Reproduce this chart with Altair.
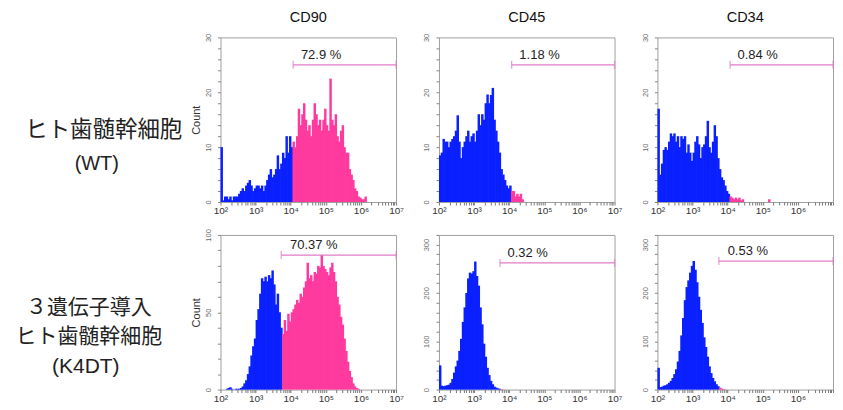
import altair as alt
import numpy as np
import pandas as pd

# ---------------- data ----------------
BIN_START_LOG = 2.0     # first bin starts at 10^2
BIN_WIDTH_LOG = 0.05    # each bin is 0.05 decade wide

COLUMN_TITLES = ["CD90", "CD45", "CD34"]
ROW_LABELS = [["ヒト歯髄幹細胞", "(WT)"],
              ["３遺伝子導入", "ヒト歯髄幹細胞", "(K4DT)"]]

# counts per 0.05-decade bin, starting at 10^2
CD90_WT = [10, 0.3, 1, 1, 0.5, 1, 0.3, 1, 1, 1,
           1.5, 2, 2.5, 2, 3, 3.5, 4, 3, 2, 2.5,
           3, 3, 2.5, 3, 2, 3, 4, 5, 6, 4.5,
           5, 6, 8.5, 6, 7, 9, 8, 12, 9, 12,
           10, 11, 10, 12, 17, 14, 16, 18, 15, 13,
           14, 12, 15, 18, 16, 14, 15, 13, 15, 17,
           14, 13, 22.5, 15, 14, 16, 12, 11, 13, 14,
           10, 9, 9, 6, 5, 4, 2.5, 2, 1, 0.8,
           0.5, 0.5, 1]
CD45_WT = [8.5, 9, 11.5, 11, 11, 10, 11, 11.5, 12, 13,
           15.8, 11, 8, 10, 11, 12, 13, 11, 12, 12.5,
           11, 13, 16, 14, 16, 15, 18, 19.6, 18, 19.5,
           20.8, 15, 13, 11, 9, 6, 5, 4, 3, 2.5,
           3, 2, 2, 1, 1.5, 1, 1.5, 0.5]
CD34_WT = [17, 5, 7, 9.5, 10, 9.5, 11, 12.5, 12, 12.5,
           11, 12, 10, 12, 11.5, 12, 9, 10.5, 9, 7.5,
           9, 11, 12, 10.5, 8, 10, 10.5, 12, 14.8, 10,
           9, 11, 14, 12, 8, 6, 4.5, 4, 3, 2,
           1.5, 1, 0.8, 0.5, 0.8, 0.5, 0.8, 0.3, 0.5, 0,
           0, 0, 0, 0, 0, 0, 0, 0, 0, 0,
           0, 0, 0, 0.5]
CD90_K4DT = [0, 0, 0, 0.5, 1, 1.5, 0.5, 0, 0.5, 0.5,
             0.5, 1, 2, 4, 6, 10, 15, 22, 28, 33,
             45, 52, 62, 72, 70, 73, 70, 74, 72, 77,
             68, 55, 62, 50, 40, 36, 45, 38, 49, 44,
             50, 52, 55, 58, 56, 62, 60, 66, 70, 82,
             72, 74, 70, 76, 75, 80, 79, 87, 80, 78,
             76, 74, 79, 82, 76, 70, 60, 55, 47, 42,
             33, 25, 18, 12, 8, 4, 2, 1, 0.5]
CD45_K4DT = [50, 8, 7, 8, 9, 10, 14, 22, 35, 48,
             60, 80, 105, 140, 170, 200, 230, 242, 240, 245,
             265, 235, 215, 170, 135, 95, 68, 45, 30, 18,
             11, 6, 4, 2.5, 1.5, 1, 0.5]
CD34_K4DT = [45, 5, 6, 8, 9, 11, 14, 18, 24, 32,
             42, 58, 80, 112, 148, 185, 212, 226, 242, 256,
             266, 248, 222, 192, 165, 138, 108, 88, 68, 48,
             34, 24, 17, 11, 7, 4, 2, 1, 0.5]

SERIES = [CD90_WT, CD45_WT, CD34_WT, CD90_K4DT, CD45_K4DT, CD34_K4DT]
GATE_START_LOG = [4.07, 4.07, 4.07, 3.73, 3.74, 3.75]
GATE_END = 1e7
GATE_Y = [25, 25, 25, 87, 262, 266]
GATE_LABELS = ["72.9 %", "1.18 %", "0.84 %", "70.37 %", "0.32 %", "0.53 %"]
LABEL_START_LOG = [4.29, 4.29, 4.28, 3.98, 3.95, 4.0]
Y_MAX = [30, 30, 30, 100, 320, 320]
Y_MAJOR = [[0, 10, 20, 30], [0, 10, 20, 30], [0, 10, 20, 30],
           [0, 50, 100], [0, 100, 200, 300], [0, 100, 200, 300]]
Y_MINOR_STEP = [2, 2, 2, 10, 20, 20]
X_TICK_VALUES = [1e2, 1e3, 1e4, 1e5, 1e6, 1e7]
X_TICK_LABELS = ["10²", "10³", "10⁴", "10⁵", "10⁶", "10⁷"]

# ---------------- style ----------------
BLUE = "#0a20ff"
PINK = "#ff3a9e"
GATE = "#e27cc6"
TEXT = "#222222"
LATIN = "Liberation Sans"
CJK = "Noto Sans CJK JP"

PANEL_W = 176
ROW_H = [165, 155]
LABEL_W = 169
COL_GAP = 43
ROW_GAP = 33
BAR_OVERLAP = 0.4   # bars drawn slightly wider than a bin to hide anti-aliasing seams

# positions of the row-label lines inside the label cells (x, y, size, font)
ROW_LABEL_LAYOUT = [[(95, 93, 22.5, CJK), (88, 127, 20, LATIN)],
                    [(80, 73, 21, CJK), (80, 102, 21, CJK), (77, 132, 21, LATIN)]]


def x_label_expr(values, labels):
    expr = "''"
    for v, lab in reversed(list(zip(values, labels))):
        expr = f"(abs(datum.value - {v}) < {v * 1e-6}) ? '{lab}' : ({expr})"
    return expr


def y_label_expr(majors):
    expr = "''"
    for v in reversed(majors):
        expr = f"(datum.value == {v}) ? '{v}' : ({expr})"
    return expr


X_ALL_TICKS = [m * 10.0 ** e for e in range(2, 7) for m in range(1, 10)] + [1e7]


def panel(k):
    col = k % 3
    row = k // 3
    counts = np.array(SERIES[k], dtype=float)
    lo_log = BIN_START_LOG + BIN_WIDTH_LOG * np.arange(len(counts))
    df = pd.DataFrame({
        "lo": 10 ** lo_log,
        "hi": 10 ** np.minimum(lo_log + BIN_WIDTH_LOG * (1 + BAR_OVERLAP), 7.0),
        "count": counts,
        "base": 0.0,
        "side": np.where(lo_log + BIN_WIDTH_LOG / 2 >= GATE_START_LOG[k], "pos", "neg"),
    })
    df = df[df["count"] > 0]

    xscale = alt.Scale(type="log", domain=[1e2, 1e7], nice=False)
    yscale = alt.Scale(domain=[0, Y_MAX[k]], nice=False, zero=True)
    tick_labels = X_TICK_LABELS if col < 2 else X_TICK_LABELS[:-1]
    tick_values = X_TICK_VALUES if col < 2 else X_TICK_VALUES[:-1]
    xaxis = alt.Axis(values=X_ALL_TICKS, labelExpr=x_label_expr(tick_values, tick_labels),
                     title=None, grid=False, domain=False, tickSize=3, tickColor="#777",
                     labelFontSize=10, labelFont=LATIN, labelColor="#333", labelPadding=1,
                     labelOverlap=False, labelFlush=False)
    y_vals = list(range(0, Y_MAX[k] + 1, Y_MINOR_STEP[k]))
    yaxis = alt.Axis(values=y_vals, labelExpr=y_label_expr(Y_MAJOR[k]),
                     title="Count" if col == 0 else None,
                     titleFontSize=11, titleFontWeight="normal", titleFont=LATIN,
                     titleColor="#333", titlePadding=3,
                     grid=False, domain=False, tickSize=3, tickColor="#888",
                     labelAngle=270, labelFontSize=7.5, labelFont=LATIN, labelColor="#666",
                     labelPadding=5, labelOverlap=False)
    cscale = alt.Scale(domain=["neg", "pos"], range=[BLUE, PINK])

    bars = alt.Chart(df).mark_bar(opacity=1, strokeWidth=0).encode(
        x=alt.X("lo:Q", scale=xscale, axis=xaxis),
        x2="hi:Q",
        y=alt.Y("count:Q", scale=yscale, axis=yaxis),
        y2="base:Q",
        color=alt.Color("side:N", scale=cscale, legend=None),
    )

    gdf = pd.DataFrame({"x0": [10 ** GATE_START_LOG[k]], "x1": [GATE_END], "y": [GATE_Y[k]],
                        "lx": [10 ** LABEL_START_LOG[k]], "label": [GATE_LABELS[k]]})
    cap_df = pd.DataFrame({"x": [10 ** GATE_START_LOG[k], GATE_END], "y": [GATE_Y[k]] * 2})

    rule = alt.Chart(gdf).mark_rule(color=GATE, strokeWidth=1.3).encode(
        x=alt.X("x0:Q", scale=xscale, axis=xaxis), x2="x1:Q",
        y=alt.Y("y:Q", scale=yscale, axis=yaxis))
    caps = alt.Chart(cap_df).mark_tick(color=GATE, orient="vertical", size=8, thickness=1.3).encode(
        x=alt.X("x:Q", scale=xscale, axis=xaxis), y=alt.Y("y:Q", scale=yscale, axis=yaxis))
    text = alt.Chart(gdf).mark_text(align="left", baseline="alphabetic", dy=-6, fontSize=13,
                                    font=LATIN, color=TEXT).encode(
        x=alt.X("lx:Q", scale=xscale, axis=xaxis), y=alt.Y("y:Q", scale=yscale, axis=yaxis),
        text="label:N")

    props = dict(width=PANEL_W, height=ROW_H[row],
                 view=alt.ViewBackground(stroke="#a0a0a0", strokeWidth=1))
    if row == 0:
        props["title"] = alt.TitleParams(COLUMN_TITLES[col], fontSize=14.5, fontWeight="normal",
                                         font=LATIN, color="#111", offset=8, anchor="middle")
    return alt.layer(bars, rule, caps, text).properties(**props)


def label_cell(r):
    layers = []
    for line, (x, y, size, font) in zip(ROW_LABELS[r], ROW_LABEL_LAYOUT[r]):
        layers.append(
            alt.Chart(pd.DataFrame({"t": [line]})).mark_text(
                fontSize=size, font=font, color=TEXT, align="center", baseline="middle"
            ).encode(x=alt.value(x), y=alt.value(y), text="t:N")
        )
    return alt.layer(*layers).properties(
        width=LABEL_W, height=ROW_H[r],
        view=alt.ViewBackground(stroke="transparent"))


cells = [label_cell(0), panel(0), panel(1), panel(2),
         label_cell(1), panel(3), panel(4), panel(5)]

chart = alt.concat(*cells, columns=4,
                   spacing=alt.RowColnumber(row=ROW_GAP, column=COL_GAP)).properties(
    bounds="flush", align="each", padding=0, background="white"
).configure_view(stroke="#a0a0a0")

chart.save("out.html", embed_options={"renderer": "svg", "actions": False})
